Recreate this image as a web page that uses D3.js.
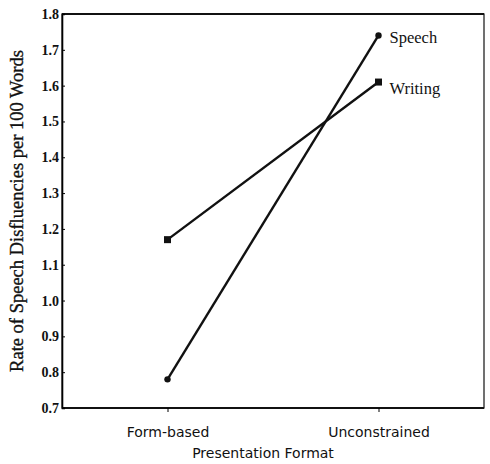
<!DOCTYPE html>
<html>
<head>
<meta charset="utf-8">
<script src="https://cdn.jsdelivr.net/npm/d3@7"></script>
<style>
  body { margin: 0; background: #fff; }
  svg { display: block; }
</style>
</head>
<body>
<div id="chart"></div>
<script>
// Data
const formats = ["Form-based", "Unconstrained"];
const speech = [0.78, 1.74];
const writing = [1.17, 1.61];
const yTicks = [0.7, 0.8, 0.9, 1.0, 1.1, 1.2, 1.3, 1.4, 1.5, 1.6, 1.7, 1.8];

// Dimensions
const width = 490;
const height = 464;
const margin = { top: 14, right: 6, bottom: 56, left: 62 };

const svg = d3.select("#chart")
    .append("svg")
    .attr("width", width)
    .attr("height", height);

// Scales
const x = d3.scalePoint()
    .domain(formats)
    .range([margin.left, width - margin.right])
    .padding(0.5);

const y = d3.scaleLinear()
    .domain([0.7, 1.8])
    .range([height - margin.bottom, margin.top]);

const serif = "'Liberation Serif', 'DejaVu Serif', serif";

// frame
svg.append("rect")
    .attr("x", margin.left)
    .attr("y", margin.top)
    .attr("width", width - margin.right - margin.left)
    .attr("height", height - margin.bottom - margin.top)
    .attr("fill", "none")
    .attr("stroke", "#111")
    .attr("stroke-width", 1.2);

svg.append("line")
    .attr("x1", margin.left).attr("x2", width - margin.right)
    .attr("y1", margin.top).attr("y2", margin.top)
    .attr("stroke", "#111").attr("stroke-width", 2.2);
svg.append("line")
    .attr("x1", margin.left).attr("x2", width - margin.right)
    .attr("y1", height - margin.bottom).attr("y2", height - margin.bottom)
    .attr("stroke", "#111").attr("stroke-width", 2);

// eix Y
const yAxis = svg.append("g")
    .attr("transform", `translate(${margin.left},0)`)
    .call(d3.axisRight(y).tickValues(yTicks).tickSize(3).tickFormat(d3.format(".1f")));
yAxis.select(".domain").attr("stroke-width", 1.6);
yAxis.selectAll("text")
    .attr("x", -3)
    .attr("text-anchor", "end")
    .style("font-family", serif)
    .style("font-size", "14px")
    .style("font-weight", "bold")
    .style("fill", "#111");

// eix X
const xAxis = svg.append("g")
    .attr("transform", `translate(0,${height - margin.bottom})`)
    .call(d3.axisBottom(x).tickSize(4).tickPadding(15));
xAxis.select(".domain").remove();
xAxis.selectAll("text")
    .style("font-family", "'DejaVu Sans', sans-serif")
    .style("font-size", "14px")
    .style("fill", "#111");

// Lines
const series = [
    { name: "Speech", values: speech, shape: "circle", dy: 2 },
    { name: "Writing", values: writing, shape: "square", dy: 6 }
];

const line = d3.line()
    .x((d, i) => x(formats[i]))
    .y(d => y(d));

series.forEach(s => {
    svg.append("path")
        .datum(s.values)
        .attr("d", line)
        .attr("fill", "none")
        .attr("stroke", "#111")
        .attr("stroke-width", 2.4);

    s.values.forEach((v, i) => {
        if (s.shape === "circle") {
            svg.append("circle")
                .attr("cx", x(formats[i]))
                .attr("cy", y(v))
                .attr("r", 3.2)
                .attr("fill", "#111");
        } else {
            svg.append("rect")
                .attr("x", x(formats[i]) - 3.5)
                .attr("y", y(v) - 3.5)
                .attr("width", 7)
                .attr("height", 7)
                .attr("fill", "#111");
        }
    });

    svg.append("text")
        .attr("x", x(formats[1]) + 11)
        .attr("y", y(s.values[1]) + s.dy)
        .attr("dy", "0.35em")
        .style("font-family", serif)
        .style("font-size", "16.5px")
        .style("fill", "#111")
        .text(s.name);
});

// Títols eixos
svg.append("text")
    .attr("x", (margin.left + width - margin.right) / 2 - 10)
    .attr("y", height - 6)
    .attr("text-anchor", "middle")
    .style("font-family", "'DejaVu Sans', sans-serif")
    .style("font-size", "14px")
    .style("fill", "#111")
    .text("Presentation Format");

svg.append("text")
    .attr("transform", `translate(23,${(margin.top + height - margin.bottom) / 2}) rotate(-90)`)
    .attr("text-anchor", "middle")
    .style("font-family", serif)
    .style("font-size", "18.5px")
    .style("stroke", "#111")
    .style("stroke-width", 0.35)
    .style("fill", "#111")
    .text("Rate of Speech Disfluencies per 100 Words");
</script>
</body>
</html>
